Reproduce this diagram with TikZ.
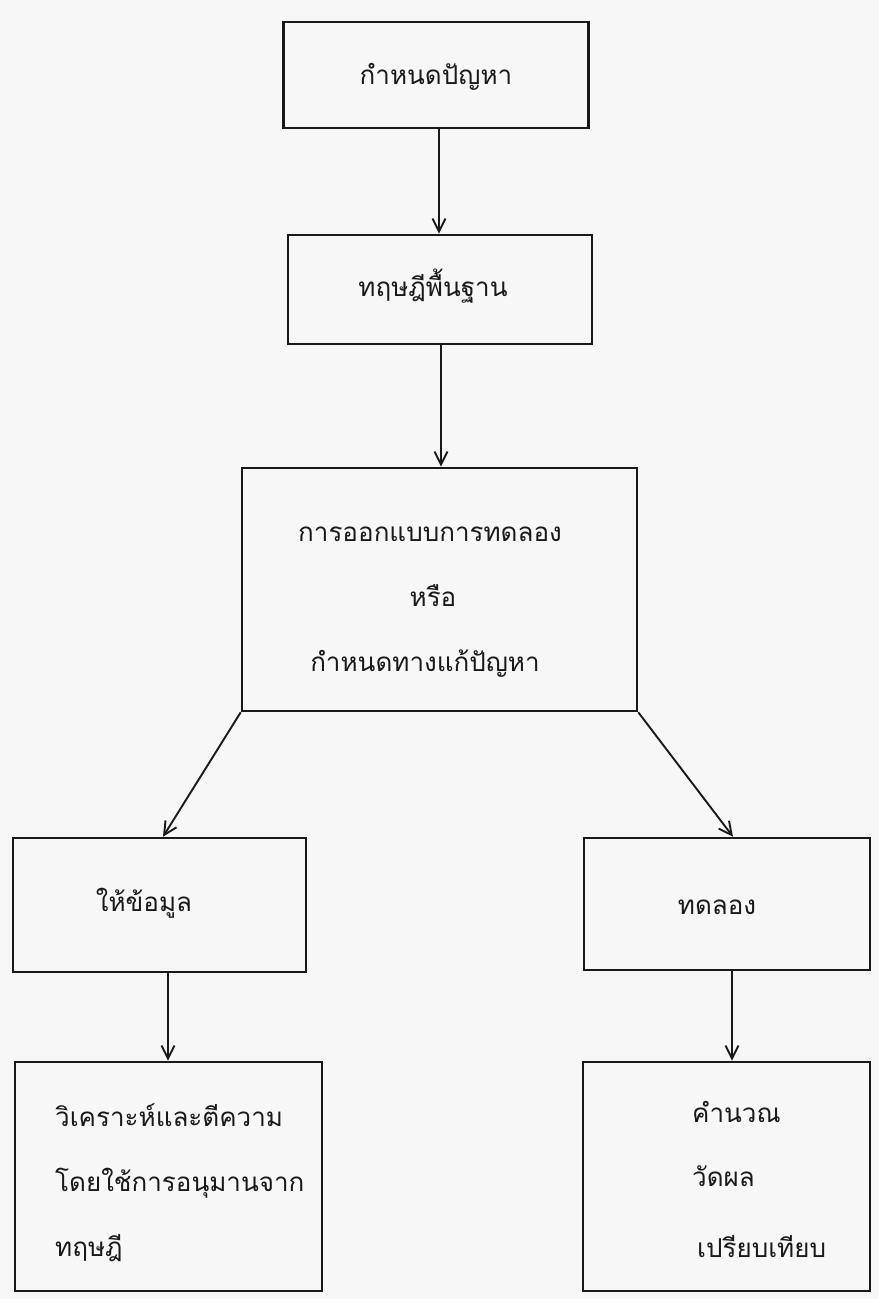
\documentclass[tikz,border=0pt]{standalone}
\usepackage{fontspec}
\newfontfamily\thaifont[Script=Thai]{Loma}
\usetikzlibrary{arrows.meta,calc}
\begin{document}
\begin{tikzpicture}[x=1pt,y=-1pt,
  boxst/.style={draw=black!90, line width=2.6pt, inner sep=0pt},
  arr/.style={draw=black!90, line width=1.9pt, -{Straight Barb[length=13pt,width=13pt,line width=1.9pt]}},
  txt/.style={font=\thaifont\fontsize{26}{30}\selectfont, text=black!90, inner sep=0pt}]
\useasboundingbox[fill=black!3] (0,0) rectangle (879,1299);
% boxes
\node[boxst, minimum width=305pt, minimum height=106pt] (b1) at (436,75) {};
\node[boxst, minimum width=304pt, minimum height=109pt] (b2) at (440,289.5) {};
\node[boxst, minimum width=395pt, minimum height=243pt] (b3) at (439.5,589.5) {};
\node[boxst, minimum width=293pt, minimum height=134pt] (b4) at (159.5,905) {};
\node[boxst, minimum width=286pt, minimum height=132pt] (b5) at (727,904) {};
\node[boxst, minimum width=307pt, minimum height=229pt] (b6) at (168.5,1176.5) {};
\node[boxst, minimum width=287pt, minimum height=229pt] (b7) at (726.5,1176.5) {};
% texts
\node[txt, anchor=base] (t1) at (436,84) {กำหนดปัญหา};
\node[txt, anchor=base] (t2) at (433,296) {ทฤษฎีพื้นฐาน};
\node[txt, anchor=base] (t3a) at (430,541) {การออกแบบการทดลอง};
\node[txt, anchor=base] (t3b) at (433,606) {หรือ};
\node[txt, anchor=base] (t3c) at (425,671) {กำหนดทางแก้ปัญหา};
\node[txt, anchor=base] (t4) at (144,911) {ให้ข้อมูล};
\node[txt, anchor=base] (t5) at (717,914) {ทดลอง};
\node[txt, anchor=base west] (t6a) at (55,1126) {วิเคราะห์และตีความ};
\node[txt, anchor=base west] (t6b) at (55,1191) {โดยใช้การอนุมานจาก};
\node[txt, anchor=base west] (t6c) at (55,1256) {ทฤษฎี};
\node[txt, anchor=base west] (t7a) at (692,1122) {คำนวณ};
\node[txt, anchor=base west] (t7b) at (692,1186) {วัดผล};
\node[txt, anchor=base west] (t7c) at (697,1257) {เปรียบเทียบ};
% connector end points
\coordinate (c1) at ($(b1.south)+(3,0)$);
\coordinate (c2) at ($(b2.south)+(1,0)$);
\coordinate (c4) at ($(b4.south)+(8.5,0)$);
\coordinate (c5) at ($(b5.south)+(5,0)$);
% connectors
\draw[arr] (c1) -- (c1 |- b2.north);
\draw[arr] (c2) -- (c2 |- b3.north);
\draw[arr] (b3.south west) -- ($(b4.north)+(3.5,0)$);
\draw[arr] (b3.south east) -- ($(b5.north)+(6,0)$);
\draw[arr] (c4) -- (c4 |- b6.north);
\draw[arr] (c5) -- (c5 |- b7.north);
\end{tikzpicture}
\end{document}
